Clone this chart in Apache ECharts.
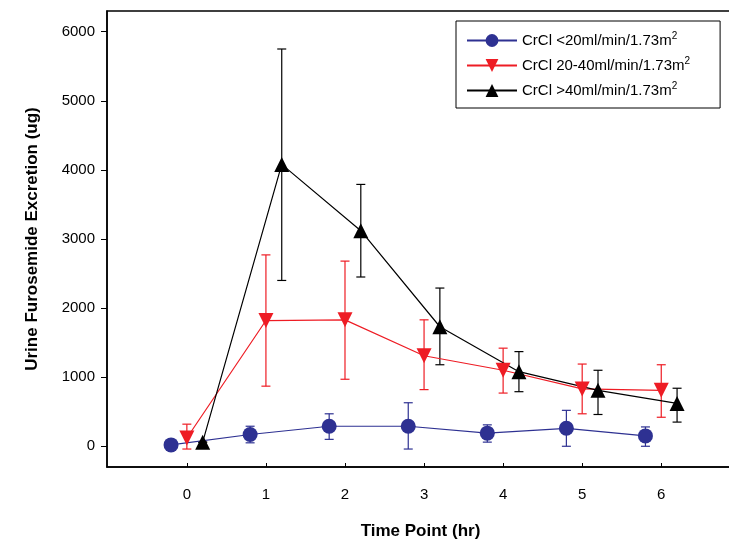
<!DOCTYPE html>
<html><head><meta charset="utf-8">
<script src="https://cdn.jsdelivr.net/npm/echarts@6/dist/echarts.min.js"></script>
<style>body{margin:0}#c{width:729px;height:544px}</style></head>
<body><div id="c"></div>
<script>
const blueX=[-0.2,0.8,1.8,2.8,3.8,4.8,5.8];
const blueY=[20,170,290,290,190,260,150];
const blueLo=[20,50,100,-40,60,0,0];
const blueHi=[20,290,470,630,310,520,280];
const redX=[0,1,2,3,4,5,6];
const redY=[120,1820,1830,1310,1100,830,810];
const redLo=[-40,870,970,820,770,470,420];
const redHi=[320,2770,2680,1830,1420,1190,1180];
const blackX=[0.2,1.2,2.2,3.2,4.2,5.2,6.2];
const blackY=[60,4080,3120,1730,1080,810,620];
const blackLo=[60,2400,2450,1180,790,460,350];
const blackHi=[60,5750,3790,2290,1370,1100,840];
const yTicks=[0,1000,2000,3000,4000,5000,6000];
const xTicks=[0,1,2,3,4,5,6];
const names=['CrCl <20ml/min/1.73m{s|2}','CrCl 20-40ml/min/1.73m{s|2}','CrCl >40ml/min/1.73m{s|2}'];
const cols=['#2e3192','#ee1c24','#000000'];
const triDown='path://M0,0 L10,0 L5,9 Z';
const syms=['circle',triDown,'triangle'];
const sets=[[blueX,blueY,blueLo,blueHi],[redX,redY,redLo,redHi],[blackX,blackY,blackLo,blackHi]];
const series=[];
sets.forEach((s,i)=>{
  series.push({name:names[i],type:'line',data:s[0].map((x,j)=>[x,s[1][j]]),symbol:syms[i],symbolSize:15,
    lineStyle:{color:cols[i],width:1.2},itemStyle:{color:cols[i]},z:3});
  series.push({type:'custom',data:s[0].map((x,j)=>[x,s[2][j],s[3][j]]),z:2,
    renderItem:(p,api)=>{const lo=api.coord([api.value(0),api.value(1)]),hi=api.coord([api.value(0),api.value(2)]);
      const st={stroke:cols[i],lineWidth:1.2};const w=4.5;
      return {type:'group',children:[
        {type:'line',shape:{x1:lo[0],y1:lo[1],x2:hi[0],y2:hi[1]},style:st},
        {type:'line',shape:{x1:lo[0]-w,y1:lo[1],x2:lo[0]+w,y2:lo[1]},style:st},
        {type:'line',shape:{x1:hi[0]-w,y1:hi[1],x2:hi[0]+w,y2:hi[1]},style:st}]};}});
});
const ch=echarts.init(document.getElementById('c'));
ch.setOption({
  animation:false,
  grid:{left:107,right:-5,top:11,bottom:77,show:true,borderColor:'#000',borderWidth:1.5,outerBoundsMode:'none',containLabel:false},
  xAxis:{type:'value',min:-1.01,max:6.92,name:'Time Point (hr)',nameLocation:'middle',nameGap:56,
    nameTextStyle:{fontFamily:'Liberation Sans',fontWeight:'bold',fontSize:17,color:'#000'},
    axisLine:{onZero:false,lineStyle:{color:'#000',width:1.5}},axisTick:{customValues:xTicks,inside:true,length:4,lineStyle:{color:'#000'}},splitLine:{show:false},
    axisLabel:{customValues:xTicks,color:'#000',fontSize:15,margin:20,fontFamily:'Liberation Sans'}},
  yAxis:{type:'value',min:-300,max:6300,name:'Urine Furosemide Excretion (ug)',nameLocation:'middle',nameGap:66,
    nameTextStyle:{fontFamily:'Liberation Sans',fontWeight:'bold',fontSize:17,color:'#000'},
    axisLine:{onZero:false,lineStyle:{color:'#000',width:1.5}},axisTick:{customValues:yTicks,lineStyle:{color:'#000'},length:6},splitLine:{show:false},
    axisLabel:{customValues:yTicks,color:'#000',fontSize:15,margin:12,fontFamily:'Liberation Sans',formatter:v=>String(v)}},
  legend:{data:names,orient:'vertical',left:456,top:21,width:266,itemGap:8,itemWidth:50,itemHeight:16,
    padding:[10,30,10,10],borderColor:'#000',borderWidth:1,
    textStyle:{fontFamily:'Liberation Sans',fontSize:15,color:'#000',rich:{s:{fontSize:10,verticalAlign:'top',padding:[0,0,9,0]}}}},
  series
});
</script></body></html>
